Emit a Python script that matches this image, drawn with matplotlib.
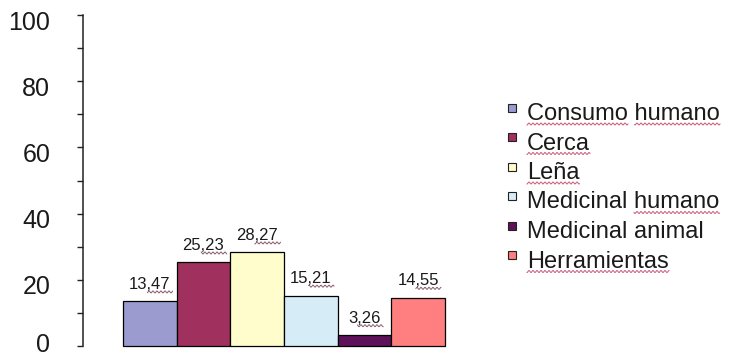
import matplotlib
matplotlib.use("Agg")
import matplotlib.pyplot as plt
import numpy as np
from matplotlib.transforms import ScaledTranslation
from matplotlib.patches import Rectangle
from matplotlib.lines import Line2D

plt.rcParams['font.family'] = ['Liberation Sans', 'DejaVu Sans']

# usos y porcentajes
categorias = ["Consumo humano", "Cerca", "Leña", "Medicinal humano", "Medicinal animal", "Herramientas"]
valores = [13.47, 25.23, 28.27, 15.21, 3.26, 14.55]
colores = ["#9b9bd0", "#a0305e", "#fffdcc", "#d6ecf6", "#5e1259", "#ff7f80"]
# palabras marcadas por el corrector en la leyenda
subrayadas = [["Consumo", "humano"], ["Cerca"], ["Leña"], ["humano"], [], ["Herramientas"]]

W, H = 743, 358
fig = plt.figure(figsize=(W / 100, H / 100), dpi=100)
ax = fig.add_axes([83 / W, 12 / H, (470 - 83) / W, (346 - 15) / H])

x = np.arange(len(valores))
ax.bar(x, valores, width=1.0, color=colores, edgecolor="black", linewidth=0.9, clip_on=False)
ax.set_xlim(-1.245, 5.966)
ax.set_ylim(0, 100)

for s in ["top", "right", "bottom"]:
    ax.spines[s].set_visible(False)
ax.spines["left"].set_linewidth(1.1)
ax.spines["left"].set_color("#222222")

ax.set_xticks([])
ax.set_yticks(range(0, 101, 20))
ax.set_yticks(range(10, 100, 20), minor=True)
ax.tick_params(axis="y", which="both", direction="out", length=4.5, width=1,
               color="#222222", pad=19, labelsize=18, labelcolor="#1a1a1a")
# las etiquetas quedan un poco por debajo de su marca; la del 0 sin salirse del borde
for lbl in ax.get_yticklabels():
    dy = 4 if lbl.get_text() == "0" else -5
    lbl.set_transform(lbl.get_transform() + ScaledTranslation(0, dy / 100, fig.dpi_scale_trans))

# etiquetas de valor sobre cada barra
subir = ax.transData + ScaledTranslation(0, 12.5 / 100, fig.dpi_scale_trans)
etiquetas = []
for xi, v in zip(x, valores):
    txt = f"{v:.2f}".replace(".", ",")
    t = ax.text(xi, v, txt, ha="center", va="baseline", fontsize=12,
                color="#1a1a1a", transform=subir)
    etiquetas.append((t, txt, xi, v))

# leyenda dibujada a mano
textos_leyenda = []
for i, (nombre, color) in enumerate(zip(categorias, colores)):
    yb = H - (120 + i * 29.5)
    fig.patches.append(Rectangle((508 / W, (yb + 8.5) / H), 8 / W, 8 / H,
                                 transform=fig.transFigure, facecolor=color,
                                 edgecolor="#222222", lw=0.8))
    t = fig.text(527 / W, yb / H, nombre, fontsize=17, va="baseline", ha="left",
                 color="#1a1a1a")
    textos_leyenda.append((t, nombre, yb))


def ondulada(x0, x1, y, color):
    xs = np.arange(x0, x1 + 0.5, 0.5)
    ys = y + 1.0 * np.sin(xs * 2 * np.pi / 4.0)
    fig.add_artist(Line2D(xs / W, ys / H, transform=fig.transFigure,
                          color=color, lw=0.7))


fig.canvas.draw()
renderer = fig.canvas.get_renderer()


def ancho(s, t):
    return renderer.get_text_width_height_descent(s, t.get_fontproperties(), ismath=False)[0]


for t, txt, xi, v in etiquetas:
    px, py = subir.transform((xi, v))
    total = ancho(txt, t)
    entero = ancho(txt.split(",")[0], t)
    izq = px - total / 2
    ondulada(izq + entero, izq + total + 2, py - 3, "#8a5a70")

for (t, nombre, yb), palabras in zip(textos_leyenda, subrayadas):
    for p in palabras:
        idx = nombre.index(p)
        fin = ancho(nombre[:idx + len(p)], t)
        ini = fin - ancho(p, t)
        ondulada(527 + ini, 527 + fin, yb - 4, "#cc5577")

fig.savefig("out.png", dpi=100)
